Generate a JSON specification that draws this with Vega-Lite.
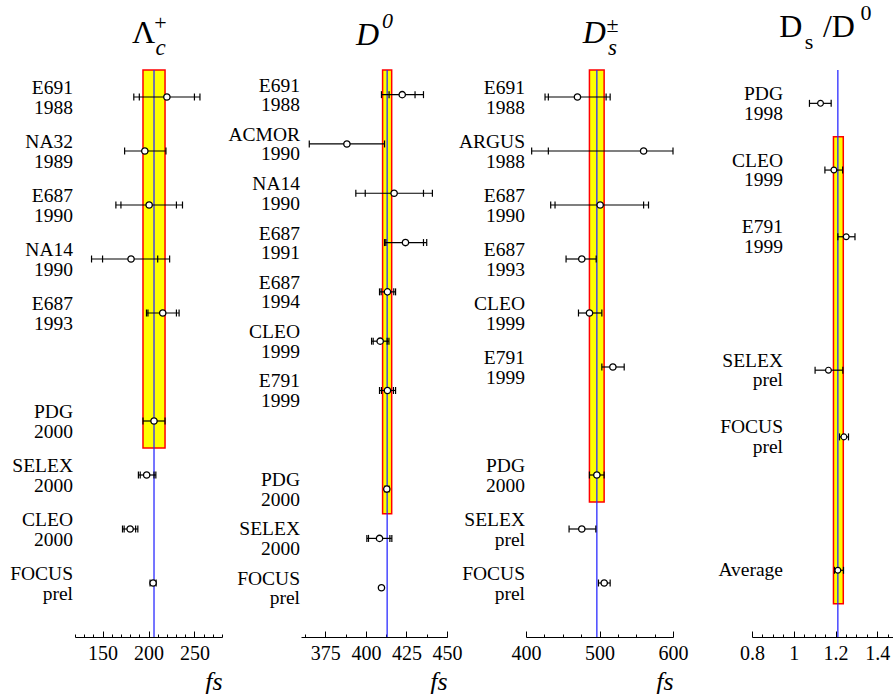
{
"$schema":"https://vega.github.io/schema/vega-lite/v6.json",
"padding":{"left":10,"top":2,"right":0,"bottom":0},
"spacing":79,
"bounds":"flush",
"config":{
 "view":{"stroke":null},
 "font":"Liberation Serif",
 "text":{"font":"Liberation Serif","color":"black"},
 "axisX":{"domainColor":"black","domainWidth":1,"tickColor":"black","tickWidth":1,"tickSize":-4,"labelFont":"Liberation Serif","labelFontSize":20,"labelColor":"black","labelPadding":12,"titleFont":"Liberation Serif","titleFontSize":26,"titleFontStyle":"italic","titleFontWeight":"normal","titleColor":"black","titleAnchor":"end","titleAlign":"right","titlePadding":2,"grid":false,"labelOverlap":false,"labelFlush":false,"labelBound":false}
},
"datasets":{
 "lcBand":[{"lo":194,"hi":218,"center":206,"from":-0.5,"to":6.5}],
 "lc":[
  {"slot":0,"label":"E691\n1988","val":220,"outLo":184,"outHi":256,"inLo":190,"inHi":250},
  {"slot":1,"label":"NA32\n1989","val":196,"outLo":174,"outHi":219},
  {"slot":2,"label":"E687\n1990","val":200.7,"outLo":164.5,"outHi":237,"inLo":170,"inHi":230.4},
  {"slot":3,"label":"NA14\n1990","val":181,"outLo":138,"outHi":223,"inLo":150,"inHi":210},
  {"slot":4,"label":"E687\n1993","val":215.5,"outLo":197.8,"outHi":233.3,"inLo":199.4,"inHi":230.4},
  {"slot":6,"label":"PDG\n2000","val":206,"outLo":194,"outHi":218},
  {"slot":7,"label":"SELEX\n2000","val":198,"outLo":189,"outHi":208,"inLo":191,"inHi":206},
  {"slot":8,"label":"CLEO\n2000","val":180,"outLo":171.7,"outHi":188.4,"inLo":173.5,"inHi":186},
  {"slot":9,"label":"FOCUS\nprel","val":205,"outLo":201.7,"outHi":208.3}
 ],
 "d0Band":[{"lo":410.3,"hi":415.9,"center":413.1,"from":-0.5,"to":8.5}],
 "d0":[
  {"slot":0,"label":"E691\n1988","val":422.4,"outLo":409.6,"outHi":435.5,"inLo":414.3,"inHi":430.3},
  {"slot":1,"label":"ACMOR\n1990","val":388.3,"outLo":365.1,"outHi":411.5},
  {"slot":2,"label":"NA14\n1990","val":417.4,"outLo":393.8,"outHi":441,"inLo":399.6,"inHi":435.5},
  {"slot":3,"label":"E687\n1991","val":424.4,"outLo":411.5,"outHi":437.5,"inLo":412.3,"inHi":435.5},
  {"slot":4,"label":"E687\n1994","val":413.3,"outLo":408.4,"outHi":418.3,"inLo":409.4,"inHi":417.2},
  {"slot":5,"label":"CLEO\n1999","val":408.8,"outLo":403.5,"outHi":414.2,"inLo":404.5,"inHi":413.1},
  {"slot":6,"label":"E791\n1999","val":413.3,"outLo":408.4,"outHi":418.3,"inLo":409.6,"inHi":417},
  {"slot":8,"label":"PDG\n2000","val":412.9,"outLo":411.7,"outHi":414.3},
  {"slot":9,"label":"SELEX\n2000","val":408.4,"outLo":400.6,"outHi":416,"inLo":401.6,"inHi":414.8},
  {"slot":10,"label":"FOCUS\nprel","val":409.6}
 ],
 "dsBand":[{"lo":486.3,"hi":506.3,"center":496.4,"from":-0.5,"to":7.5}],
 "ds":[
  {"slot":0,"label":"E691\n1988","val":470,"outLo":425.9,"outHi":514.5,"inLo":430.4,"inHi":509},
  {"slot":1,"label":"ARGUS\n1988","val":560,"outLo":407.7,"outHi":600,"inLo":430.4},
  {"slot":2,"label":"E687\n1990","val":500.9,"outLo":433.6,"outHi":566.7,"inLo":439.5,"inHi":560},
  {"slot":3,"label":"E687\n1993","val":475.9,"outLo":454.5,"outHi":495.5},
  {"slot":4,"label":"CLEO\n1999","val":486.4,"outLo":471.4,"outHi":503.2},
  {"slot":5,"label":"E791\n1999","val":518.2,"outLo":503.2,"outHi":533.6},
  {"slot":7,"label":"PDG\n2000","val":496.4,"outLo":486.3,"outHi":506.3},
  {"slot":8,"label":"SELEX\nprel","val":475.9,"outLo":458.6,"outHi":495},
  {"slot":9,"label":"FOCUS\nprel","val":506.4,"outLo":498.6,"outHi":514.5}
 ],
 "rtBand":[{"lo":1.19,"hi":1.237,"center":1.211,"from":0.5,"to":7.5}],
 "rt":[
  {"slot":0,"label":"PDG\n1998","val":1.128,"outLo":1.075,"outHi":1.179},
  {"slot":1,"label":"CLEO\n1999","val":1.192,"outLo":1.149,"outHi":1.234},
  {"slot":2,"label":"E791\n1999","val":1.251,"outLo":1.211,"outHi":1.293},
  {"slot":4,"label":"SELEX\nprel","val":1.166,"outLo":1.102,"outHi":1.235},
  {"slot":5,"label":"FOCUS\nprel","val":1.24,"outLo":1.219,"outHi":1.262},
  {"slot":7,"label":"Average","val":1.211,"outLo":1.195,"outHi":1.238}
 ],
 "titles":[
  {"id":"lc1","t":"Λ"},{"id":"lc2","t":"c"},{"id":"lc3","t":"+"},
  {"id":"d01","t":"D"},{"id":"d02","t":"0"},
  {"id":"ds1","t":"D"},{"id":"ds2","t":"±"},{"id":"ds3","t":"s"},
  {"id":"rt1","t":"D"},{"id":"rt2","t":"s"},{"id":"rt3","t":"/D"},{"id":"rt4","t":"0"}
 ]
},
"hconcat":[
 {"width":147,"height":567,"layer":[
  {"data":{"name":"lcBand"},"mark":{"type":"rect","fill":"#ffff00","stroke":"#ff0000","strokeWidth":1.5},
   "encoding":{"x":{"field":"lo","type":"quantitative","scale":{"domain":[120,280],"nice":false,"zero":false},
     "axis":{"title":"fs","labelOverlap":false,"values":[120,130,140,150,160,170,180,190,200,210,220,230,240,250,260,270,280],"labelExpr":"datum.value % 50 == 0 ? format(datum.value,'d') : ''","tickSize":{"condition":{"test":"datum.value % 50 == 0","value":-6},"value":-3}}},
    "x2":{"field":"hi"},
    "y":{"field":"from","type":"quantitative","scale":{"domain":[-0.5,10],"reverse":true,"nice":false,"zero":false},"axis":null},
    "y2":{"field":"to"}}},
  {"data":{"name":"lcBand"},"mark":{"type":"rule","color":"#2b2bff","strokeWidth":1.3},
   "encoding":{"x":{"field":"center","type":"quantitative","axis":{"title":"fs","labelOverlap":false,"values":[120,130,140,150,160,170,180,190,200,210,220,230,240,250,260,270,280],"labelExpr":"datum.value % 50 == 0 ? format(datum.value,'d') : ''","tickSize":{"condition":{"test":"datum.value % 50 == 0","value":-6},"value":-3}}},"y":{"datum":-0.5,"type":"quantitative","axis":null},"y2":{"datum":10}}},
  {"data":{"name":"lc"},"transform":[{"filter":"isValid(datum.outLo)"}],"mark":{"type":"rule","color":"black","strokeWidth":1.2},
   "encoding":{"x":{"field":"outLo","type":"quantitative","axis":{"title":"fs","labelOverlap":false,"values":[120,130,140,150,160,170,180,190,200,210,220,230,240,250,260,270,280],"labelExpr":"datum.value % 50 == 0 ? format(datum.value,'d') : ''","tickSize":{"condition":{"test":"datum.value % 50 == 0","value":-6},"value":-3}}},"x2":{"field":"outHi"},"y":{"field":"slot","type":"quantitative","axis":null}}},
  {"data":{"name":"lc"},"transform":[{"fold":["outLo","outHi","inLo","inHi"],"as":["k","v"]},{"filter":"isValid(datum.v)"}],"mark":{"type":"tick","orient":"vertical","size":7,"thickness":1.2,"color":"black","opacity":1},
   "encoding":{"x":{"field":"v","type":"quantitative","axis":{"title":"fs","labelOverlap":false,"values":[120,130,140,150,160,170,180,190,200,210,220,230,240,250,260,270,280],"labelExpr":"datum.value % 50 == 0 ? format(datum.value,'d') : ''","tickSize":{"condition":{"test":"datum.value % 50 == 0","value":-6},"value":-3}}},"y":{"field":"slot","type":"quantitative","axis":null}}},
  {"data":{"name":"lc"},"mark":{"type":"point","shape":"circle","filled":true,"fill":"white","stroke":"black","strokeWidth":1.3,"size":40,"opacity":1},
   "encoding":{"x":{"field":"val","type":"quantitative","axis":{"title":"fs","labelOverlap":false,"values":[120,130,140,150,160,170,180,190,200,210,220,230,240,250,260,270,280],"labelExpr":"datum.value % 50 == 0 ? format(datum.value,'d') : ''","tickSize":{"condition":{"test":"datum.value % 50 == 0","value":-6},"value":-3}}},"y":{"field":"slot","type":"quantitative","axis":null}}},
  {"data":{"name":"lc"},"mark":{"type":"text","align":"right","baseline":"middle","dx":-2,"dy":-9,"fontSize":19.5,"lineHeight":19.5,"lineBreak":"\n","color":"black"},
   "encoding":{"x":{"datum":120,"type":"quantitative","axis":{"title":"fs","labelOverlap":false,"values":[120,130,140,150,160,170,180,190,200,210,220,230,240,250,260,270,280],"labelExpr":"datum.value % 50 == 0 ? format(datum.value,'d') : ''","tickSize":{"condition":{"test":"datum.value % 50 == 0","value":-6},"value":-3}}},"y":{"field":"slot","type":"quantitative","axis":null},"text":{"field":"label"}}},
  {"data":{"name":"titles"},"transform":[{"filter":"datum.id=='lc1'"}],"mark":{"type":"text","align":"center","baseline":"alphabetic","fontSize":32,"dx":-5,"dy":-27},
   "encoding":{"x":{"datum":200,"type":"quantitative","axis":{"title":"fs","labelOverlap":false,"values":[120,130,140,150,160,170,180,190,200,210,220,230,240,250,260,270,280],"labelExpr":"datum.value % 50 == 0 ? format(datum.value,'d') : ''","tickSize":{"condition":{"test":"datum.value % 50 == 0","value":-6},"value":-3}}},"y":{"datum":-0.5,"type":"quantitative","axis":null},"text":{"field":"t"}}},
  {"data":{"name":"titles"},"transform":[{"filter":"datum.id=='lc2'"}],"mark":{"type":"text","align":"center","baseline":"alphabetic","fontSize":23,"fontStyle":"italic","dx":12,"dy":-15},
   "encoding":{"x":{"datum":200,"type":"quantitative","axis":{"title":"fs","labelOverlap":false,"values":[120,130,140,150,160,170,180,190,200,210,220,230,240,250,260,270,280],"labelExpr":"datum.value % 50 == 0 ? format(datum.value,'d') : ''","tickSize":{"condition":{"test":"datum.value % 50 == 0","value":-6},"value":-3}}},"y":{"datum":-0.5,"type":"quantitative","axis":null},"text":{"field":"t"}}},
  {"data":{"name":"titles"},"transform":[{"filter":"datum.id=='lc3'"}],"mark":{"type":"text","align":"center","baseline":"alphabetic","fontSize":22,"dx":12,"dy":-40},
   "encoding":{"x":{"datum":200,"type":"quantitative","axis":{"title":"fs","labelOverlap":false,"values":[120,130,140,150,160,170,180,190,200,210,220,230,240,250,260,270,280],"labelExpr":"datum.value % 50 == 0 ? format(datum.value,'d') : ''","tickSize":{"condition":{"test":"datum.value % 50 == 0","value":-6},"value":-3}}},"y":{"datum":-0.5,"type":"quantitative","axis":null},"text":{"field":"t"}}}
 ]},
 {"width":146,"height":567,"layer":[
  {"data":{"name":"d0Band"},"mark":{"type":"rect","fill":"#ffff00","stroke":"#ff0000","strokeWidth":1.5},
   "encoding":{"x":{"field":"lo","type":"quantitative","scale":{"domain":[360,450],"nice":false,"zero":false},
     "axis":{"title":"fs","labelOverlap":false,"values":[362.5,375,387.5,400,412.5,425,437.5,450],"labelExpr":"datum.value % 25 == 0 ? format(datum.value,'d') : ''","tickSize":{"condition":{"test":"datum.value % 25 == 0","value":-6},"value":-3}}},
    "x2":{"field":"hi"},
    "y":{"field":"from","type":"quantitative","scale":{"domain":[-0.5,11],"reverse":true,"nice":false,"zero":false},"axis":null},
    "y2":{"field":"to"}}},
  {"data":{"name":"d0Band"},"mark":{"type":"rule","color":"#2b2bff","strokeWidth":1.3},
   "encoding":{"x":{"field":"center","type":"quantitative","axis":{"title":"fs","labelOverlap":false,"values":[362.5,375,387.5,400,412.5,425,437.5,450],"labelExpr":"datum.value % 25 == 0 ? format(datum.value,'d') : ''","tickSize":{"condition":{"test":"datum.value % 25 == 0","value":-6},"value":-3}}},"y":{"datum":-0.5,"type":"quantitative","axis":null},"y2":{"datum":11}}},
  {"data":{"name":"d0"},"transform":[{"filter":"isValid(datum.outLo)"}],"mark":{"type":"rule","color":"black","strokeWidth":1.2},
   "encoding":{"x":{"field":"outLo","type":"quantitative","axis":{"title":"fs","labelOverlap":false,"values":[362.5,375,387.5,400,412.5,425,437.5,450],"labelExpr":"datum.value % 25 == 0 ? format(datum.value,'d') : ''","tickSize":{"condition":{"test":"datum.value % 25 == 0","value":-6},"value":-3}}},"x2":{"field":"outHi"},"y":{"field":"slot","type":"quantitative","axis":null}}},
  {"data":{"name":"d0"},"transform":[{"fold":["outLo","outHi","inLo","inHi"],"as":["k","v"]},{"filter":"isValid(datum.v)"}],"mark":{"type":"tick","orient":"vertical","size":7,"thickness":1.2,"color":"black","opacity":1},
   "encoding":{"x":{"field":"v","type":"quantitative","axis":{"title":"fs","labelOverlap":false,"values":[362.5,375,387.5,400,412.5,425,437.5,450],"labelExpr":"datum.value % 25 == 0 ? format(datum.value,'d') : ''","tickSize":{"condition":{"test":"datum.value % 25 == 0","value":-6},"value":-3}}},"y":{"field":"slot","type":"quantitative","axis":null}}},
  {"data":{"name":"d0"},"mark":{"type":"point","shape":"circle","filled":true,"fill":"white","stroke":"black","strokeWidth":1.3,"size":40,"opacity":1},
   "encoding":{"x":{"field":"val","type":"quantitative","axis":{"title":"fs","labelOverlap":false,"values":[362.5,375,387.5,400,412.5,425,437.5,450],"labelExpr":"datum.value % 25 == 0 ? format(datum.value,'d') : ''","tickSize":{"condition":{"test":"datum.value % 25 == 0","value":-6},"value":-3}}},"y":{"field":"slot","type":"quantitative","axis":null}}},
  {"data":{"name":"d0"},"mark":{"type":"text","align":"right","baseline":"middle","dx":-1,"dy":-9,"fontSize":19.5,"lineHeight":19.5,"lineBreak":"\n","color":"black"},
   "encoding":{"x":{"datum":360,"type":"quantitative","axis":{"title":"fs","labelOverlap":false,"values":[362.5,375,387.5,400,412.5,425,437.5,450],"labelExpr":"datum.value % 25 == 0 ? format(datum.value,'d') : ''","tickSize":{"condition":{"test":"datum.value % 25 == 0","value":-6},"value":-3}}},"y":{"field":"slot","type":"quantitative","axis":null},"text":{"field":"label"}}},
  {"data":{"name":"titles"},"transform":[{"filter":"datum.id=='d01'"}],"mark":{"type":"text","align":"center","baseline":"alphabetic","fontSize":32,"fontStyle":"italic","dx":-6.5,"dy":-25},
   "encoding":{"x":{"datum":405,"type":"quantitative","axis":{"title":"fs","labelOverlap":false,"values":[362.5,375,387.5,400,412.5,425,437.5,450],"labelExpr":"datum.value % 25 == 0 ? format(datum.value,'d') : ''","tickSize":{"condition":{"test":"datum.value % 25 == 0","value":-6},"value":-3}}},"y":{"datum":-0.5,"type":"quantitative","axis":null},"text":{"field":"t"}}},
  {"data":{"name":"titles"},"transform":[{"filter":"datum.id=='d02'"}],"mark":{"type":"text","align":"center","baseline":"alphabetic","fontSize":22,"fontStyle":"italic","dx":13.5,"dy":-42},
   "encoding":{"x":{"datum":405,"type":"quantitative","axis":{"title":"fs","labelOverlap":false,"values":[362.5,375,387.5,400,412.5,425,437.5,450],"labelExpr":"datum.value % 25 == 0 ? format(datum.value,'d') : ''","tickSize":{"condition":{"test":"datum.value % 25 == 0","value":-6},"value":-3}}},"y":{"datum":-0.5,"type":"quantitative","axis":null},"text":{"field":"t"}}}
 ]},
 {"width":147,"height":567,"layer":[
  {"data":{"name":"dsBand"},"mark":{"type":"rect","fill":"#ffff00","stroke":"#ff0000","strokeWidth":1.5},
   "encoding":{"x":{"field":"lo","type":"quantitative","scale":{"domain":[400,600],"nice":false,"zero":false},
     "axis":{"title":"fs","labelOverlap":false,"values":[400,425,450,475,500,525,550,575,600],"labelExpr":"datum.value % 100 == 0 ? format(datum.value,'d') : ''","tickSize":{"condition":{"test":"datum.value % 100 == 0","value":-6},"value":-3}}},
    "x2":{"field":"hi"},
    "y":{"field":"from","type":"quantitative","scale":{"domain":[-0.5,10],"reverse":true,"nice":false,"zero":false},"axis":null},
    "y2":{"field":"to"}}},
  {"data":{"name":"dsBand"},"mark":{"type":"rule","color":"#2b2bff","strokeWidth":1.3},
   "encoding":{"x":{"field":"center","type":"quantitative","axis":{"title":"fs","labelOverlap":false,"values":[400,425,450,475,500,525,550,575,600],"labelExpr":"datum.value % 100 == 0 ? format(datum.value,'d') : ''","tickSize":{"condition":{"test":"datum.value % 100 == 0","value":-6},"value":-3}}},"y":{"datum":-0.5,"type":"quantitative","axis":null},"y2":{"datum":10}}},
  {"data":{"name":"ds"},"transform":[{"filter":"isValid(datum.outLo)"}],"mark":{"type":"rule","color":"black","strokeWidth":1.2},
   "encoding":{"x":{"field":"outLo","type":"quantitative","axis":{"title":"fs","labelOverlap":false,"values":[400,425,450,475,500,525,550,575,600],"labelExpr":"datum.value % 100 == 0 ? format(datum.value,'d') : ''","tickSize":{"condition":{"test":"datum.value % 100 == 0","value":-6},"value":-3}}},"x2":{"field":"outHi"},"y":{"field":"slot","type":"quantitative","axis":null}}},
  {"data":{"name":"ds"},"transform":[{"fold":["outLo","outHi","inLo","inHi"],"as":["k","v"]},{"filter":"isValid(datum.v)"}],"mark":{"type":"tick","orient":"vertical","size":7,"thickness":1.2,"color":"black","opacity":1},
   "encoding":{"x":{"field":"v","type":"quantitative","axis":{"title":"fs","labelOverlap":false,"values":[400,425,450,475,500,525,550,575,600],"labelExpr":"datum.value % 100 == 0 ? format(datum.value,'d') : ''","tickSize":{"condition":{"test":"datum.value % 100 == 0","value":-6},"value":-3}}},"y":{"field":"slot","type":"quantitative","axis":null}}},
  {"data":{"name":"ds"},"mark":{"type":"point","shape":"circle","filled":true,"fill":"white","stroke":"black","strokeWidth":1.3,"size":40,"opacity":1},
   "encoding":{"x":{"field":"val","type":"quantitative","axis":{"title":"fs","labelOverlap":false,"values":[400,425,450,475,500,525,550,575,600],"labelExpr":"datum.value % 100 == 0 ? format(datum.value,'d') : ''","tickSize":{"condition":{"test":"datum.value % 100 == 0","value":-6},"value":-3}}},"y":{"field":"slot","type":"quantitative","axis":null}}},
  {"data":{"name":"ds"},"mark":{"type":"text","align":"right","baseline":"middle","dx":-1,"dy":-9,"fontSize":19.5,"lineHeight":19.5,"lineBreak":"\n","color":"black"},
   "encoding":{"x":{"datum":400,"type":"quantitative","axis":{"title":"fs","labelOverlap":false,"values":[400,425,450,475,500,525,550,575,600],"labelExpr":"datum.value % 100 == 0 ? format(datum.value,'d') : ''","tickSize":{"condition":{"test":"datum.value % 100 == 0","value":-6},"value":-3}}},"y":{"field":"slot","type":"quantitative","axis":null},"text":{"field":"label"}}},
  {"data":{"name":"titles"},"transform":[{"filter":"datum.id=='ds1'"}],"mark":{"type":"text","align":"center","baseline":"alphabetic","fontSize":32,"fontStyle":"italic","dx":-5.3,"dy":-27},
   "encoding":{"x":{"datum":500,"type":"quantitative","axis":{"title":"fs","labelOverlap":false,"values":[400,425,450,475,500,525,550,575,600],"labelExpr":"datum.value % 100 == 0 ? format(datum.value,'d') : ''","tickSize":{"condition":{"test":"datum.value % 100 == 0","value":-6},"value":-3}}},"y":{"datum":-0.5,"type":"quantitative","axis":null},"text":{"field":"t"}}},
  {"data":{"name":"titles"},"transform":[{"filter":"datum.id=='ds2'"}],"mark":{"type":"text","align":"center","baseline":"alphabetic","fontSize":22,"dx":13,"dy":-38},
   "encoding":{"x":{"datum":500,"type":"quantitative","axis":{"title":"fs","labelOverlap":false,"values":[400,425,450,475,500,525,550,575,600],"labelExpr":"datum.value % 100 == 0 ? format(datum.value,'d') : ''","tickSize":{"condition":{"test":"datum.value % 100 == 0","value":-6},"value":-3}}},"y":{"datum":-0.5,"type":"quantitative","axis":null},"text":{"field":"t"}}},
  {"data":{"name":"titles"},"transform":[{"filter":"datum.id=='ds3'"}],"mark":{"type":"text","align":"center","baseline":"alphabetic","fontSize":23,"fontStyle":"italic","dx":13,"dy":-15},
   "encoding":{"x":{"datum":500,"type":"quantitative","axis":{"title":"fs","labelOverlap":false,"values":[400,425,450,475,500,525,550,575,600],"labelExpr":"datum.value % 100 == 0 ? format(datum.value,'d') : ''","tickSize":{"condition":{"test":"datum.value % 100 == 0","value":-6},"value":-3}}},"y":{"datum":-0.5,"type":"quantitative","axis":null},"text":{"field":"t"}}}
 ]},
 {"width":141,"height":567,"layer":[
  {"data":{"name":"rtBand"},"mark":{"type":"rect","fill":"#ffff00","stroke":"#ff0000","strokeWidth":1.5},
   "encoding":{"x":{"field":"lo","type":"quantitative","scale":{"domain":[0.8,1.475],"nice":false,"zero":false},
     "axis":{"title":null,"labelOverlap":false,"values":[0.8,0.85,0.9,0.95,1,1.05,1.1,1.15,1.2,1.25,1.3,1.35,1.4,1.45],"labelExpr":"abs(datum.value*5 - round(datum.value*5)) < 0.001 ? format(datum.value,'~g') : ''","tickSize":{"condition":{"test":"abs(datum.value*5 - round(datum.value*5)) < 0.001","value":-6},"value":-3}}},
    "x2":{"field":"hi"},
    "y":{"field":"from","type":"quantitative","scale":{"domain":[-0.5,8],"reverse":true,"nice":false,"zero":false},"axis":null},
    "y2":{"field":"to"}}},
  {"data":{"name":"rtBand"},"mark":{"type":"rule","color":"#2b2bff","strokeWidth":1.3},
   "encoding":{"x":{"field":"center","type":"quantitative","axis":{"title":null,"labelOverlap":false,"values":[0.8,0.85,0.9,0.95,1,1.05,1.1,1.15,1.2,1.25,1.3,1.35,1.4,1.45],"labelExpr":"abs(datum.value*5 - round(datum.value*5)) < 0.001 ? format(datum.value,'~g') : ''","tickSize":{"condition":{"test":"abs(datum.value*5 - round(datum.value*5)) < 0.001","value":-6},"value":-3}}},"y":{"datum":-0.5,"type":"quantitative","axis":null},"y2":{"datum":8}}},
  {"data":{"name":"rt"},"transform":[{"filter":"isValid(datum.outLo)"}],"mark":{"type":"rule","color":"black","strokeWidth":1.2},
   "encoding":{"x":{"field":"outLo","type":"quantitative","axis":{"title":null,"labelOverlap":false,"values":[0.8,0.85,0.9,0.95,1,1.05,1.1,1.15,1.2,1.25,1.3,1.35,1.4,1.45],"labelExpr":"abs(datum.value*5 - round(datum.value*5)) < 0.001 ? format(datum.value,'~g') : ''","tickSize":{"condition":{"test":"abs(datum.value*5 - round(datum.value*5)) < 0.001","value":-6},"value":-3}}},"x2":{"field":"outHi"},"y":{"field":"slot","type":"quantitative","axis":null}}},
  {"data":{"name":"rt"},"transform":[{"fold":["outLo","outHi"],"as":["k","v"]},{"filter":"isValid(datum.v)"}],"mark":{"type":"tick","orient":"vertical","size":7,"thickness":1.2,"color":"black","opacity":1},
   "encoding":{"x":{"field":"v","type":"quantitative","axis":{"title":null,"labelOverlap":false,"values":[0.8,0.85,0.9,0.95,1,1.05,1.1,1.15,1.2,1.25,1.3,1.35,1.4,1.45],"labelExpr":"abs(datum.value*5 - round(datum.value*5)) < 0.001 ? format(datum.value,'~g') : ''","tickSize":{"condition":{"test":"abs(datum.value*5 - round(datum.value*5)) < 0.001","value":-6},"value":-3}}},"y":{"field":"slot","type":"quantitative","axis":null}}},
  {"data":{"name":"rt"},"mark":{"type":"point","shape":"circle","filled":true,"fill":"white","stroke":"black","strokeWidth":1.2,"size":34,"opacity":1},
   "encoding":{"x":{"field":"val","type":"quantitative","axis":{"title":null,"labelOverlap":false,"values":[0.8,0.85,0.9,0.95,1,1.05,1.1,1.15,1.2,1.25,1.3,1.35,1.4,1.45],"labelExpr":"abs(datum.value*5 - round(datum.value*5)) < 0.001 ? format(datum.value,'~g') : ''","tickSize":{"condition":{"test":"abs(datum.value*5 - round(datum.value*5)) < 0.001","value":-6},"value":-3}}},"y":{"field":"slot","type":"quantitative","axis":null}}},
  {"data":{"name":"rt"},"transform":[{"filter":"indexof(datum.label, '\\n') >= 0"}],"mark":{"type":"text","align":"right","baseline":"middle","dx":31,"dy":-9.5,"fontSize":19.5,"lineHeight":19.8,"lineBreak":"\n","color":"black"},
   "encoding":{"x":{"datum":0.8,"type":"quantitative","axis":{"title":null,"labelOverlap":false,"values":[0.8,0.85,0.9,0.95,1,1.05,1.1,1.15,1.2,1.25,1.3,1.35,1.4,1.45],"labelExpr":"abs(datum.value*5 - round(datum.value*5)) < 0.001 ? format(datum.value,'~g') : ''","tickSize":{"condition":{"test":"abs(datum.value*5 - round(datum.value*5)) < 0.001","value":-6},"value":-3}}},"y":{"field":"slot","type":"quantitative","axis":null},"text":{"field":"label"}}},
  {"data":{"name":"rt"},"transform":[{"filter":"indexof(datum.label, '\\n') < 0"}],"mark":{"type":"text","align":"right","baseline":"middle","dx":31,"fontSize":19.5,"color":"black"},
   "encoding":{"x":{"datum":0.8,"type":"quantitative","axis":{"title":null,"labelOverlap":false,"values":[0.8,0.85,0.9,0.95,1,1.05,1.1,1.15,1.2,1.25,1.3,1.35,1.4,1.45],"labelExpr":"abs(datum.value*5 - round(datum.value*5)) < 0.001 ? format(datum.value,'~g') : ''","tickSize":{"condition":{"test":"abs(datum.value*5 - round(datum.value*5)) < 0.001","value":-6},"value":-3}}},"y":{"field":"slot","type":"quantitative","axis":null},"text":{"field":"label"}}},
  {"data":{"name":"titles"},"transform":[{"filter":"datum.id=='rt1'"}],"mark":{"type":"text","align":"center","baseline":"alphabetic","fontSize":32,"dx":-44.8,"dy":-33.3},
   "encoding":{"x":{"datum":1.2,"type":"quantitative","axis":{"title":null,"labelOverlap":false,"values":[0.8,0.85,0.9,0.95,1,1.05,1.1,1.15,1.2,1.25,1.3,1.35,1.4,1.45],"labelExpr":"abs(datum.value*5 - round(datum.value*5)) < 0.001 ? format(datum.value,'~g') : ''","tickSize":{"condition":{"test":"abs(datum.value*5 - round(datum.value*5)) < 0.001","value":-6},"value":-3}}},"y":{"datum":-0.5,"type":"quantitative","axis":null},"text":{"field":"t"}}},
  {"data":{"name":"titles"},"transform":[{"filter":"datum.id=='rt2'"}],"mark":{"type":"text","align":"center","baseline":"alphabetic","fontSize":22,"dx":-26.6,"dy":-21},
   "encoding":{"x":{"datum":1.2,"type":"quantitative","axis":{"title":null,"labelOverlap":false,"values":[0.8,0.85,0.9,0.95,1,1.05,1.1,1.15,1.2,1.25,1.3,1.35,1.4,1.45],"labelExpr":"abs(datum.value*5 - round(datum.value*5)) < 0.001 ? format(datum.value,'~g') : ''","tickSize":{"condition":{"test":"abs(datum.value*5 - round(datum.value*5)) < 0.001","value":-6},"value":-3}}},"y":{"datum":-0.5,"type":"quantitative","axis":null},"text":{"field":"t"}}},
  {"data":{"name":"titles"},"transform":[{"filter":"datum.id=='rt3'"}],"mark":{"type":"text","align":"center","baseline":"alphabetic","fontSize":32,"dx":3.4,"dy":-33.3},
   "encoding":{"x":{"datum":1.2,"type":"quantitative","axis":{"title":null,"labelOverlap":false,"values":[0.8,0.85,0.9,0.95,1,1.05,1.1,1.15,1.2,1.25,1.3,1.35,1.4,1.45],"labelExpr":"abs(datum.value*5 - round(datum.value*5)) < 0.001 ? format(datum.value,'~g') : ''","tickSize":{"condition":{"test":"abs(datum.value*5 - round(datum.value*5)) < 0.001","value":-6},"value":-3}}},"y":{"datum":-0.5,"type":"quantitative","axis":null},"text":{"field":"t"}}},
  {"data":{"name":"titles"},"transform":[{"filter":"datum.id=='rt4'"}],"mark":{"type":"text","align":"center","baseline":"alphabetic","fontSize":22,"dx":30.4,"dy":-50},
   "encoding":{"x":{"datum":1.2,"type":"quantitative","axis":{"title":null,"labelOverlap":false,"values":[0.8,0.85,0.9,0.95,1,1.05,1.1,1.15,1.2,1.25,1.3,1.35,1.4,1.45],"labelExpr":"abs(datum.value*5 - round(datum.value*5)) < 0.001 ? format(datum.value,'~g') : ''","tickSize":{"condition":{"test":"abs(datum.value*5 - round(datum.value*5)) < 0.001","value":-6},"value":-3}}},"y":{"datum":-0.5,"type":"quantitative","axis":null},"text":{"field":"t"}}}
 ]}
]
}
